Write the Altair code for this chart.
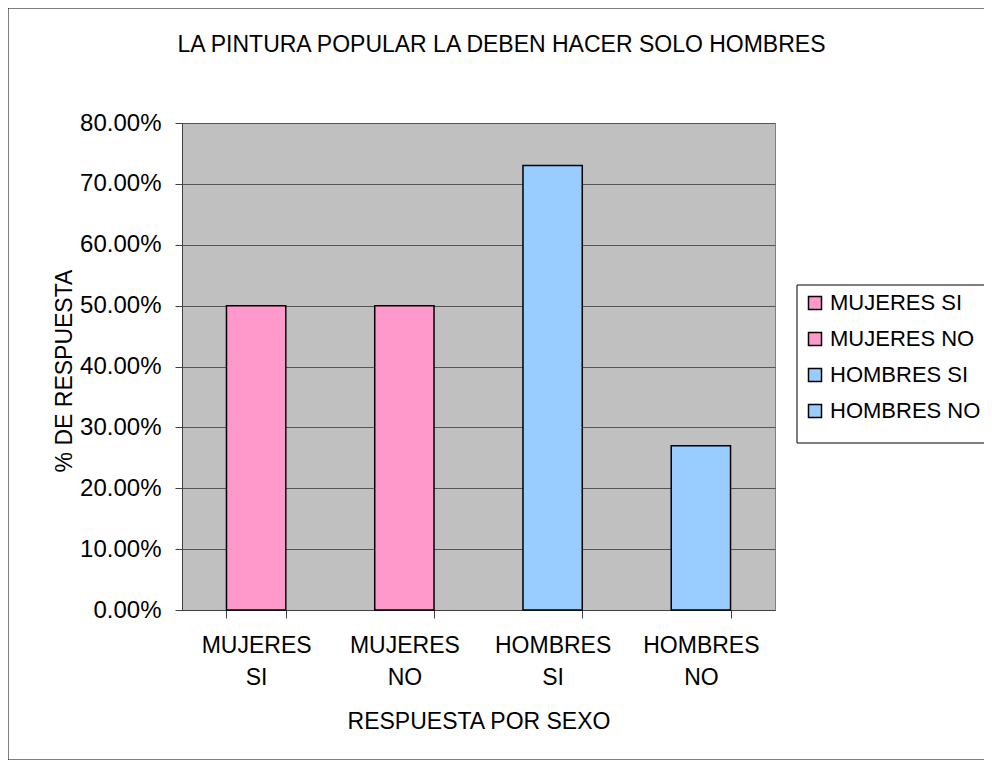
import altair as alt
import pandas as pd

categories = ["MUJERES SI", "MUJERES NO", "HOMBRES SI", "HOMBRES NO"]
values = [0.50, 0.50, 0.73, 0.27]
colors = ["#FF99CC", "#FF99CC", "#99CCFF", "#99CCFF"]
y_ticks = [0.0, 0.1, 0.2, 0.3, 0.4, 0.5, 0.6, 0.7, 0.8]
title_text = "LA PINTURA POPULAR LA DEBEN HACER SOLO HOMBRES"
x_title = "RESPUESTA POR SEXO"
y_title = "% DE RESPUESTA"

FONT = "Liberation Sans"
FS = 23
W, H = 593, 487

df = pd.DataFrame({"cat": categories, "val": values})

# outer chart-area frame
border = alt.Chart(alt.Data(values=[{"a": 1}])).mark_rect(
    fillOpacity=0, stroke="black", strokeWidth=1
).encode(
    x=alt.value(-174), x2=alt.value(900), y=alt.value(-115), y2=alt.value(637)
)

# legend frame (runs past the right edge, as in the reference)
legend_box = alt.Chart(alt.Data(values=[{"a": 1}])).mark_rect(
    fill="white", stroke="black", strokeWidth=1
).encode(
    x=alt.value(615), x2=alt.value(900), y=alt.value(162), y2=alt.value(320)
)

title = alt.Chart(alt.Data(values=[{"a": 1}])).mark_text(
    font=FONT, fontSize=FS, align="center", baseline="alphabetic", color="black"
).encode(
    x=alt.value(W / 2 + 23), y=alt.value(-71), text=alt.value(title_text)
)

bars = alt.Chart(df).mark_bar(stroke="black", strokeWidth=1.5).encode(
    x=alt.X(
        "cat:N",
        sort=categories,
        scale=alt.Scale(paddingInner=0.6, paddingOuter=0.3),
        axis=alt.Axis(
            title=x_title,
            labelAngle=0,
            labelExpr="split(datum.label, ' ')",
            labelLineHeight=32,
            labelPadding=16,
            labelFontSize=FS,
            labelFont=FONT,
            labelColor="black",
            tickBand="extent",
            tickSize=8,
            tickColor="#404040",
            domainColor="#404040",
            titleFont=FONT,
            titleFontSize=FS,
            titleFontWeight="normal",
            titleColor="black",
            titleX=W / 2,
            titleY=118,
            titleBaseline="alphabetic",
            titleAlign="center",
        ),
    ),
    y=alt.Y(
        "val:Q",
        scale=alt.Scale(domain=[0, 0.8], nice=False),
        axis=alt.Axis(
            title=y_title,
            values=y_ticks,
            format=".2%",
            labelFontSize=24,
            labelFont=FONT,
            labelColor="black",
            tickSize=7,
            labelPadding=14,
            tickColor="#404040",
            domainColor="#404040",
            gridColor="#555555",
            titleFont=FONT,
            titleFontSize=FS,
            titleFontWeight="normal",
            titleColor="black",
            titleX=-111,
            titleY=H / 2 + 4,
            titleBaseline="alphabetic",
            titleAlign="center",
            titleAngle=270,
        ),
    ),
    color=alt.Color(
        "cat:N",
        sort=categories,
        scale=alt.Scale(domain=categories, range=colors),
        legend=alt.Legend(
            orient="none",
            legendX=615,
            legendY=162,
            title=None,
            padding=7,
            symbolType="square",
            symbolSize=169,
            symbolStrokeColor="black",
            symbolStrokeWidth=1.5,
            symbolOpacity=1,
            labelFontSize=22,
            labelFont=FONT,
            labelColor="black",
            labelOffset=4,
            labelLimit=400,
            rowPadding=14,
        ),
    ),
)

chart = alt.layer(border, legend_box, bars, title).properties(
    width=W,
    height=H,
    background="white",
    autosize=alt.AutoSizeParams(type="none"),
    padding={"left": 174, "top": 115, "right": 209, "bottom": 150},
).configure_view(
    fill="#C0C0C0", stroke="#808080", strokeWidth=1
)

chart.save("out.html", embed_options={"renderer": "svg", "actions": False})
